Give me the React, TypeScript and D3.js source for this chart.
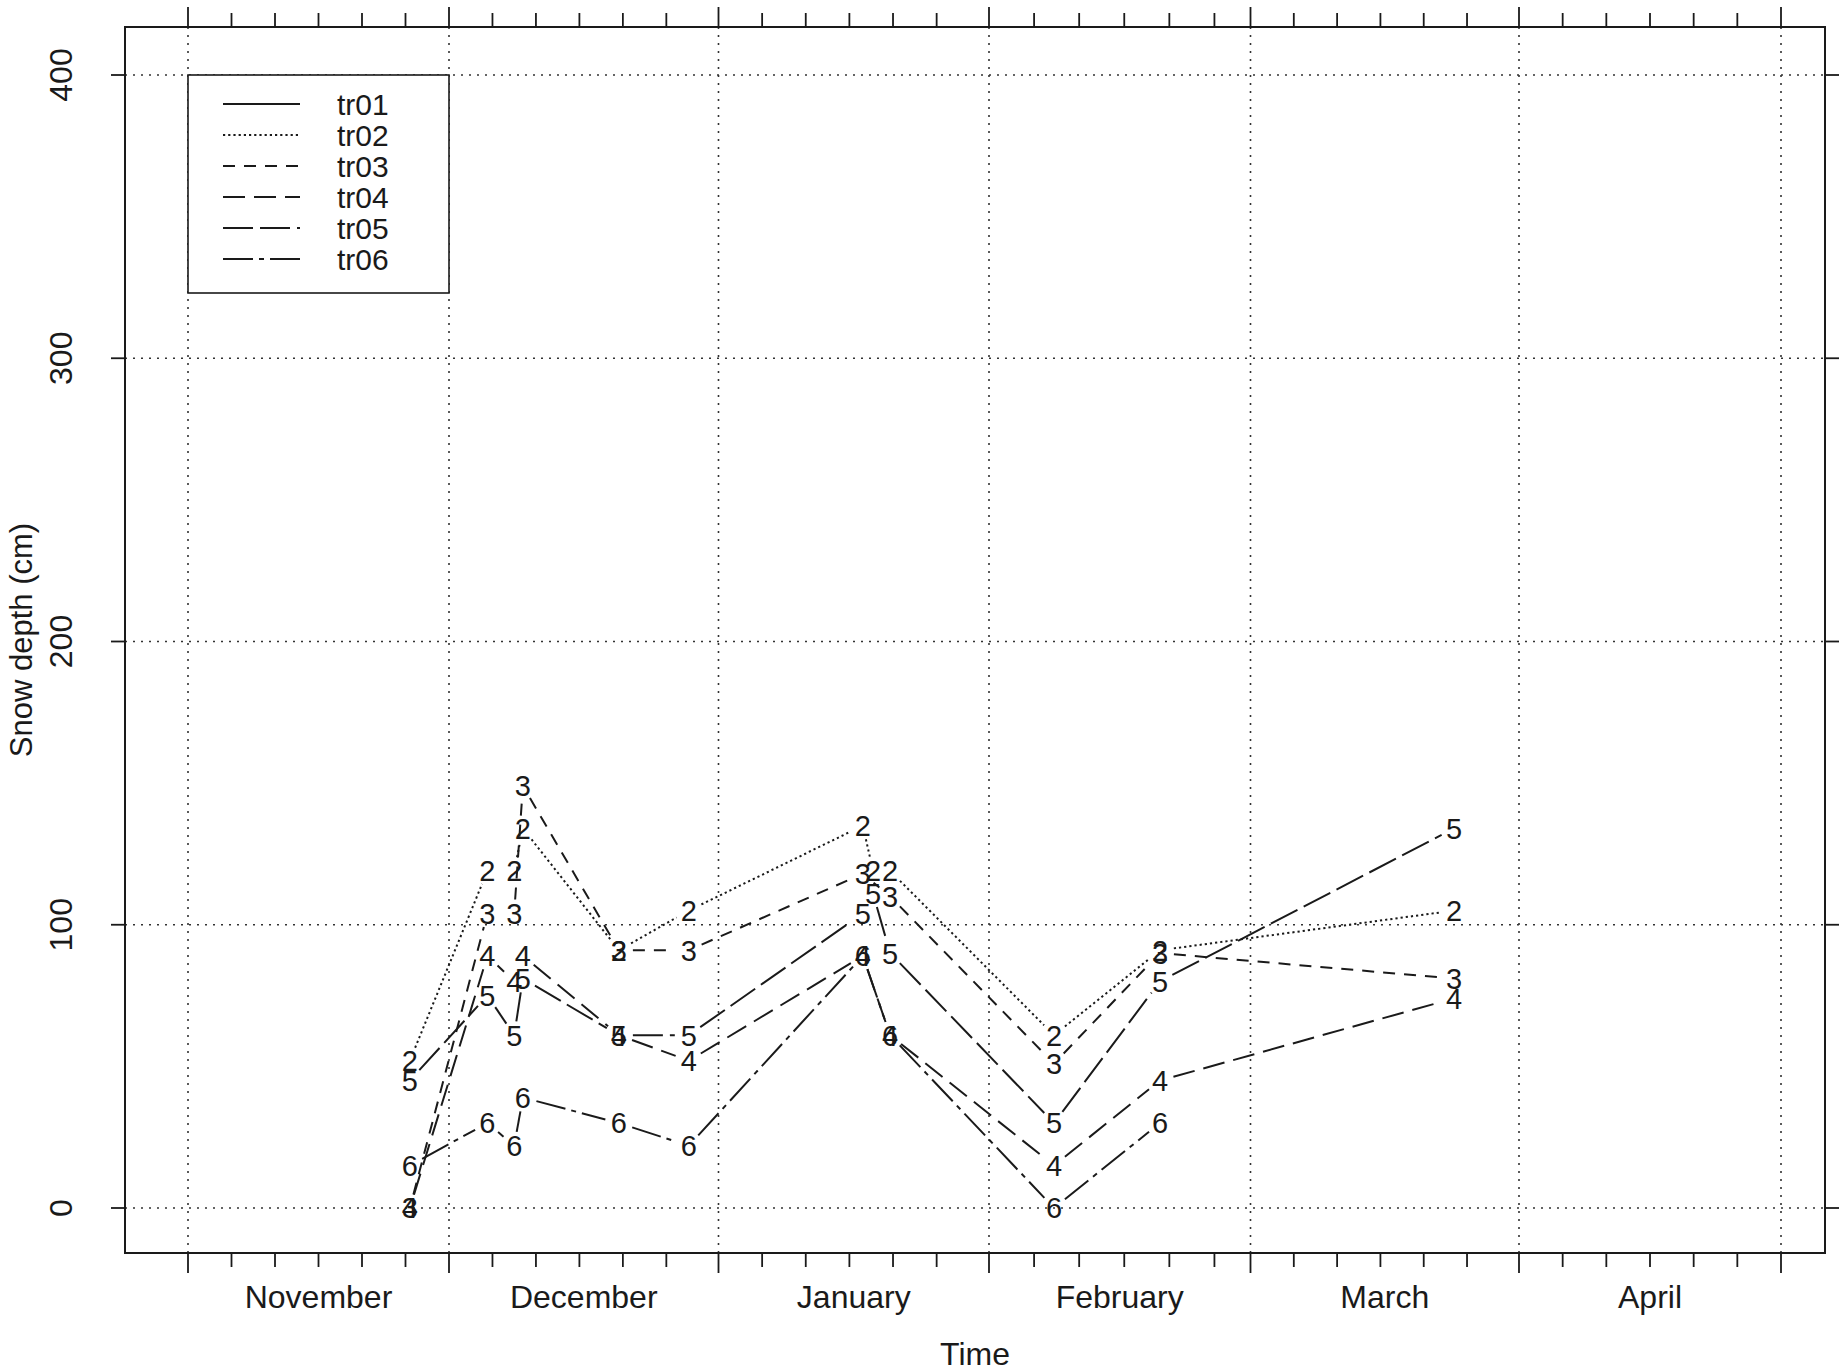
import React from 'react';
import * as d3 from 'd3';

// ---- data ----
const seriesNames = ['tr01', 'tr02', 'tr03', 'tr04', 'tr05', 'tr06'];
const seriesLabels = ['1', '2', '3', '4', '5', '6'];
const sampleDates = [
  '2003-11-26T12:00', '2003-12-05T10:00', '2003-12-08T12:00', '2003-12-09T12:00',
  '2003-12-20T13:00', '2003-12-28T14:00', '2004-01-17T13:00', '2004-01-18T17:00',
  '2004-01-20T16:00', '2004-02-08T05:00', '2004-02-19T23:00', '2004-03-24T12:00',
];
const tr01: (number | null)[] = [null, null, null, null, null, null, null, null, null, null, null, null];
const tr02: (number | null)[] = [52, 119, 119, 134, 91, 105, 135, 119, 119, 61, 91, 105];
const tr03: (number | null)[] = [0, 104, 104, 149, 91, 91, 118, null, 110, 51, 90, 81];
const tr04: (number | null)[] = [0, 89, 80, 89, 61, 52, 89, null, 61, 15, 45, 74];
const tr05: (number | null)[] = [45, 75, 61, 81, 61, 61, 104, 111, 90, 30, 80, 134];
const tr06: (number | null)[] = [15, 30, 22, 39, 30, 22, 89, null, 61, 0, 30, null];
const seriesValues = [tr01, tr02, tr03, tr04, tr05, tr06];

const monthNames = ['November', 'December', 'January', 'February', 'March', 'April'];
const monthStarts = ['2003-11-01', '2003-12-01', '2004-01-01', '2004-02-01', '2004-03-01', '2004-04-01', '2004-05-01'];
const yTicks = [0, 100, 200, 300, 400];

// ---- styles ----
const dashes = ['none', '2.2 3', '12 9', '22 9', '30 7', '30 6 5 6'];
const INK = '#1a1a1a';
const FONT = "'Liberation Sans', Arial, Helvetica, sans-serif";

const W = 1841;
const H = 1372;
const frame = { left: 125, right: 1825, top: 27, bottom: 1253 };

const parseDT = d3.timeParse('%Y-%m-%dT%H:%M');
const parseD = d3.timeParse('%Y-%m-%d');

export default function App() {
  const monthDates = monthStarts.map((s) => parseD(s) as Date);
  const x = d3.scaleTime()
    .domain(monthDates)
    .range([188, 449, 718.5, 989, 1250.5, 1519, 1781]);
  const y = d3.scaleLinear().domain([0, 400]).range([1208, 75]);

  const minorTicks: Date[] = [];
  monthDates.slice(0, -1).forEach((m) => {
    [5, 10, 15, 20, 25].forEach((k) => minorTicks.push(d3.timeDay.offset(m, k)));
  });

  const gap = 14;
  const series = seriesNames.map((name, si) => {
    const pts = sampleDates
      .map((d, i) => ({ d: parseDT(d) as Date, v: seriesValues[si][i] }))
      .filter((p) => p.v !== null)
      .map((p) => [x(p.d), y(p.v as number)] as [number, number]);
    const segs: [number, number, number, number][] = [];
    for (let i = 0; i < pts.length - 1; i++) {
      const [x1, y1] = pts[i];
      const [x2, y2] = pts[i + 1];
      const L = Math.hypot(x2 - x1, y2 - y1);
      if (L <= 2 * gap) continue;
      const ux = (x2 - x1) / L;
      const uy = (y2 - y1) / L;
      segs.push([x1 + ux * gap, y1 + uy * gap, x2 - ux * gap, y2 - uy * gap]);
    }
    return { name, label: seriesLabels[si], pts, segs, dash: dashes[si] };
  });

  const legendLeft = x(monthDates[0]);
  const legendRight = x(monthDates[1]);
  const legendTop = y(400);
  const legendBottom = 293;
  const legendRow0 = legendTop + 29;
  const legendStep = 31;

  return (
    <svg width={W} height={H} style={{ position: 'absolute', left: 0, top: 0, background: '#fff' }}
      fontFamily={FONT}>
      <rect x={0} y={0} width={W} height={H} fill="#fff" />
      {/* grid */}
      <g stroke="#333" strokeWidth={1.6} strokeDasharray="2 6">
        {monthDates.map((m, i) => (
          <line key={'vg' + i} x1={x(m)} x2={x(m)} y1={frame.top} y2={frame.bottom} />
        ))}
        {yTicks.map((t) => (
          <line key={'hg' + t} x1={frame.left} x2={frame.right} y1={y(t)} y2={y(t)} />
        ))}
      </g>
      {/* frame */}
      <rect x={frame.left} y={frame.top} width={frame.right - frame.left} height={frame.bottom - frame.top}
        fill="none" stroke={INK} strokeWidth={2} />
      {/* axis ticks */}
      <g stroke={INK} strokeWidth={1.8}>
        {monthDates.map((m, i) => (
          <g key={'mt' + i}>
            <line x1={x(m)} x2={x(m)} y1={frame.bottom} y2={frame.bottom + 20} />
            <line x1={x(m)} x2={x(m)} y1={frame.top} y2={frame.top - 20} />
          </g>
        ))}
        {minorTicks.map((m, i) => (
          <g key={'nt' + i}>
            <line x1={x(m)} x2={x(m)} y1={frame.bottom} y2={frame.bottom + 14} />
            <line x1={x(m)} x2={x(m)} y1={frame.top} y2={frame.top - 14} />
          </g>
        ))}
        {yTicks.map((t) => (
          <g key={'yt' + t}>
            <line x1={frame.left - 14} x2={frame.left} y1={y(t)} y2={y(t)} />
            <line x1={frame.right} x2={frame.right + 14} y1={y(t)} y2={y(t)} />
          </g>
        ))}
      </g>
      {/* axis labels */}
      <g fill={INK} fontSize={32}>
        {monthNames.map((name, i) => (
          <text key={name} x={(x(monthDates[i]) + x(monthDates[i + 1])) / 2} y={1308} textAnchor="middle">
            {name}
          </text>
        ))}
        {yTicks.map((t) => (
          <text key={'yl' + t} transform={`translate(72,${y(t)}) rotate(-90)`} textAnchor="middle">
            {t}
          </text>
        ))}
        <text x={(frame.left + frame.right) / 2} y={1365} textAnchor="middle">Time</text>
        <text transform={`translate(32,${(frame.top + frame.bottom) / 2}) rotate(-90)`} textAnchor="middle"
          fontSize={31}>
          Snow depth (cm)
        </text>
      </g>
      {/* series lines */}
      <g stroke={INK} strokeWidth={2} fill="none">
        {series.map((s) =>
          s.segs.map((sg, i) => (
            <line key={s.name + i} x1={sg[0]} y1={sg[1]} x2={sg[2]} y2={sg[3]}
              strokeDasharray={s.dash === 'none' ? undefined : s.dash} />
          ))
        )}
      </g>
      {/* point labels */}
      <g fill={INK} fontSize={29} textAnchor="middle">
        {series.map((s) =>
          s.pts.map((p, i) => (
            <text key={s.name + 'p' + i} x={p[0]} y={p[1]} dy="0.36em">{s.label}</text>
          ))
        )}
      </g>
      {/* legend */}
      <rect x={legendLeft} y={legendTop} width={legendRight - legendLeft} height={legendBottom - legendTop}
        fill="#fff" stroke={INK} strokeWidth={1.6} />
      {series.map((s, i) => {
        const ly = legendRow0 + i * legendStep;
        return (
          <g key={'lg' + s.name}>
            <line x1={legendLeft + 35} x2={legendLeft + 112} y1={ly} y2={ly} stroke={INK} strokeWidth={2}
              strokeDasharray={s.dash === 'none' ? undefined : s.dash} />
            <text x={legendLeft + 149} y={ly} dy="0.36em" fontSize={30} fill={INK}>{s.name}</text>
          </g>
        );
      })}
    </svg>
  );
}
